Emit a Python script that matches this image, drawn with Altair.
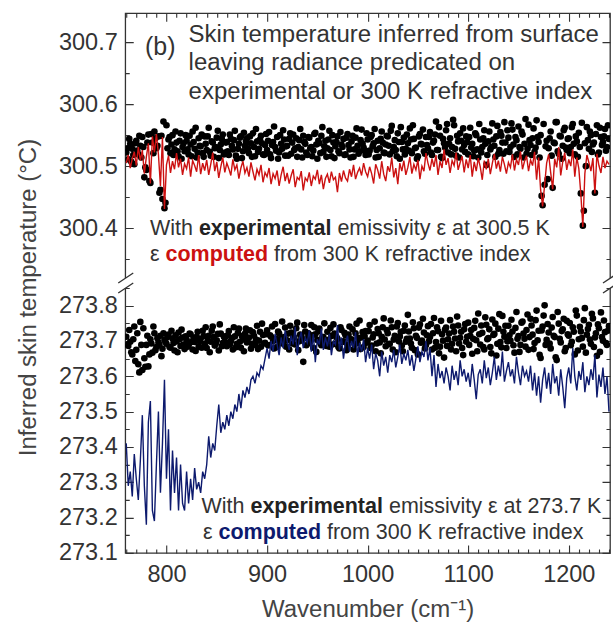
import altair as alt
import pandas as pd

# ---------------- data ----------------
wavenumber = list(range(760, 1241, 2))       # even samples
wavenumber_odd = list(range(761, 1240, 2))   # odd samples (experimental points only)

upper_experimental = [
    300.522, 300.511, 300.536, 300.528, 300.503, 300.541, 300.519, 300.533, 300.547, 300.482,
    300.494, 300.551, 300.473, 300.538, 300.556, 300.529, 300.548, 300.462, 300.447, 300.432,
    300.566, 300.543, 300.521, 300.55, 300.527, 300.538, 300.516, 300.553, 300.531, 300.524,
    300.541, 300.519, 300.535, 300.556, 300.528, 300.514, 300.545, 300.532, 300.521, 300.548,
    300.526, 300.562, 300.517, 300.538, 300.529, 300.546, 300.513, 300.535, 300.551, 300.522,
    300.539, 300.518, 300.544, 300.527, 300.557, 300.512, 300.536, 300.548, 300.524, 300.533,
    300.545, 300.521, 300.537, 300.553, 300.516, 300.54, 300.528, 300.549, 300.519, 300.534,
    300.526, 300.555, 300.513, 300.539, 300.531, 300.547, 300.522, 300.536, 300.558, 300.517,
    300.533, 300.544, 300.52, 300.551, 300.529, 300.515, 300.542, 300.527, 300.549, 300.536,
    300.518, 300.546, 300.531, 300.525, 300.554, 300.512, 300.537, 300.549, 300.523, 300.541,
    300.529, 300.557, 300.516, 300.538, 300.532, 300.548, 300.521, 300.535, 300.544, 300.519,
    300.552, 300.527, 300.54, 300.515, 300.546, 300.533, 300.524, 300.559, 300.53, 300.518,
    300.543, 300.525, 300.55, 300.537, 300.514, 300.541, 300.529, 300.556, 300.522, 300.535,
    300.548, 300.519, 300.565, 300.531, 300.526, 300.553, 300.512, 300.539, 300.546, 300.528,
    300.537, 300.561, 300.521, 300.544, 300.53, 300.516, 300.552, 300.535, 300.524, 300.547,
    300.529, 300.555, 300.518, 300.541, 300.572, 300.526, 300.549, 300.513, 300.537, 300.558,
    300.522, 300.545, 300.531, 300.566, 300.517, 300.54, 300.553, 300.527, 300.534, 300.548,
    300.519, 300.562, 300.536, 300.525, 300.55, 300.514, 300.543, 300.531, 300.558, 300.502,
    300.54, 300.527, 300.569, 300.533, 300.548, 300.52, 300.555, 300.538, 300.571, 300.524,
    300.546, 300.531, 300.559, 300.515, 300.542, 300.564, 300.528, 300.551, 300.536, 300.52,
    300.567, 300.534, 300.545, 300.523, 300.574, 300.539, 300.55, 300.437, 300.47, 300.541,
    300.529, 300.556, 300.465, 300.537, 300.571, 300.52, 300.548, 300.533, 300.562, 300.526,
    300.545, 300.531, 300.568, 300.519, 300.54, 300.554, 300.456, 300.404, 300.537, 300.563,
    300.528, 300.55, 300.535, 300.457, 300.566, 300.522, 300.547, 300.539, 300.56, 300.531,
    300.544,
]

upper_experimental_odd = [
    300.529, 300.544, 300.507, 300.518, 300.537, 300.525, 300.549, 300.514, 300.531, 300.498,
    300.538, 300.476, 300.552, 300.521, 300.545, 300.533, 300.457, 300.549, 300.572, 300.441,
    300.529, 300.547, 300.535, 300.518, 300.556, 300.524, 300.541, 300.512, 300.537, 300.55,
    300.527, 300.549, 300.516, 300.539, 300.562, 300.522, 300.533, 300.551, 300.515, 300.536,
    300.548, 300.523, 300.54, 300.515, 300.531, 300.557, 300.526, 300.544, 300.519, 300.538,
    300.524, 300.551, 300.533, 300.542, 300.517, 300.528, 300.546, 300.513, 300.554, 300.54,
    300.529, 300.548, 300.515, 300.531, 300.56, 300.523, 300.543, 300.537, 300.518, 300.552,
    300.541, 300.519, 300.534, 300.564, 300.525, 300.512, 300.55, 300.528, 300.543, 300.532,
    300.517, 300.553, 300.538, 300.526, 300.545, 300.531, 300.56, 300.514, 300.539, 300.522,
    300.547, 300.529, 300.516, 300.552, 300.535, 300.541, 300.521, 300.563, 300.532, 300.515,
    300.543, 300.526, 300.55, 300.513, 300.539, 300.524, 300.555, 300.531, 300.518, 300.546,
    300.534, 300.514, 300.549, 300.527, 300.561, 300.52, 300.542, 300.536, 300.525, 300.553,
    300.519, 300.547, 300.532, 300.56, 300.526, 300.515, 300.544, 300.538, 300.521, 300.549,
    300.533, 300.557, 300.524, 300.542, 300.516, 300.539, 300.563, 300.527, 300.519, 300.551,
    300.525, 300.543, 300.566, 300.529, 300.512, 300.548, 300.536, 300.559, 300.52, 300.534,
    300.547, 300.522, 300.538, 300.551, 300.526, 300.563, 300.515, 300.544, 300.53, 300.568,
    300.536, 300.519, 300.575, 300.528, 300.549, 300.514, 300.541, 300.561, 300.523, 300.539,
    300.547, 300.53, 300.516, 300.553, 300.527, 300.568, 300.522, 300.545, 300.536, 300.518,
    300.556, 300.531, 300.543, 300.515, 300.565, 300.526, 300.549, 300.52, 300.538, 300.558,
    300.523, 300.569, 300.535, 300.547, 300.519, 300.531, 300.556, 300.514, 300.576, 300.528,
    300.542, 300.518, 300.561, 300.53, 300.547, 300.514, 300.452, 300.568, 300.532, 300.479,
    300.545, 300.517, 300.538, 300.571, 300.524, 300.549, 300.512, 300.558, 300.53, 300.544,
    300.521, 300.563, 300.536, 300.548, 300.515, 300.531, 300.57, 300.428, 300.5, 300.542,
    300.556, 300.523, 300.538, 300.552, 300.519, 300.562, 300.534, 300.548, 300.525, 300.566,
]

upper_computed = [
    300.505, 300.518, 300.497, 300.512, 300.523, 300.501, 300.531, 300.509, 300.526, 300.488,
    300.515, 300.537, 300.472, 300.548, 300.522, 300.552, 300.519, 300.468, 300.547, 300.431,
    300.502, 300.517, 300.489, 300.508, 300.495, 300.521, 300.498, 300.512, 300.486, 300.504,
    300.496, 300.514, 300.483, 300.509, 300.501, 300.491, 300.518, 300.487, 300.505, 300.493,
    300.51, 300.486, 300.503, 300.522, 300.492, 300.507, 300.481, 300.499, 300.514, 300.49,
    300.505, 300.496, 300.485, 300.511, 300.494, 300.502, 300.48, 300.497, 300.508, 300.489,
    300.498, 300.483, 300.506, 300.491, 300.477, 300.495, 300.486, 300.502, 300.474, 300.49,
    300.483, 300.497, 300.471, 300.488, 300.48, 300.493, 300.468, 300.486, 300.499, 300.476,
    300.489, 300.472, 300.485, 300.495, 300.466, 300.482, 300.478, 300.492, 300.461, 300.481,
    300.476, 300.49, 300.468, 300.484, 300.479, 300.494, 300.471, 300.486, 300.463, 300.48,
    300.487, 300.473, 300.491, 300.478, 300.482, 300.458, 300.489, 300.475, 300.493, 300.481,
    300.476, 300.495, 300.483, 300.502, 300.479, 300.49, 300.497, 300.485, 300.505, 300.491,
    300.483, 300.499, 300.488, 300.472, 300.503, 300.494, 300.48, 300.508, 300.487, 300.476,
    300.5, 300.491, 300.514, 300.482, 300.497, 300.471, 300.505, 300.492, 300.509, 300.486,
    300.498, 300.515, 300.488, 300.503, 300.494, 300.51, 300.479, 300.5, 300.492, 300.521,
    300.505, 300.493, 300.512, 300.499, 300.518, 300.486, 300.508, 300.497, 300.527, 300.502,
    300.513, 300.489, 300.509, 300.501, 300.522, 300.494, 300.506, 300.516, 300.49, 300.511,
    300.497, 300.518, 300.483, 300.507, 300.492, 300.513, 300.499, 300.478, 300.509, 300.495,
    300.512, 300.487, 300.505, 300.52, 300.496, 300.509, 300.491, 300.515, 300.503, 300.488,
    300.506, 300.498, 300.519, 300.493, 300.511, 300.502, 300.524, 300.495, 300.508, 300.517,
    300.492, 300.51, 300.501, 300.523, 300.478, 300.514, 300.462, 300.435, 300.47, 300.505,
    300.519, 300.49, 300.463, 300.512, 300.498, 300.531, 300.485, 300.507, 300.522, 300.494,
    300.511, 300.5, 300.527, 300.483, 300.514, 300.496, 300.455, 300.402, 300.488, 300.518,
    300.506, 300.492, 300.513, 300.456, 300.52, 300.501, 300.489, 300.515, 300.497, 300.508,
    300.503,
]

lower_experimental = [
    273.712, 273.686, 273.698, 273.662, 273.741, 273.675, 273.634, 273.754, 273.618, 273.651,
    273.689, 273.628, 273.705, 273.667, 273.722, 273.683, 273.696, 273.715, 273.678, 273.703,
    273.692, 273.718, 273.681, 273.707, 273.673, 273.699, 273.724, 273.686, 273.71, 273.677,
    273.703, 273.688, 273.719, 273.676, 273.697, 273.712, 273.684, 273.706, 273.729, 273.691,
    273.68, 273.715, 273.698, 273.741, 273.687, 273.702, 273.673, 273.721, 273.694, 273.709,
    273.685, 273.728, 273.699, 273.676, 273.713, 273.692, 273.735, 273.681, 273.704, 273.72,
    273.696, 273.71, 273.678, 273.725, 273.689, 273.743, 273.701, 273.684, 273.717, 273.695,
    273.73, 273.688, 273.712, 273.699, 273.748, 273.683, 273.721, 273.706, 273.692, 273.738,
    273.702, 273.676, 273.724, 273.713, 273.69, 273.752, 273.699, 273.715, 273.641, 273.727,
    273.708, 273.694, 273.745, 273.681, 273.719, 273.703, 273.735, 273.688, 273.711, 273.697,
    273.726, 273.684, 273.714, 273.747, 273.692, 273.706, 273.679, 273.731, 273.699, 273.716,
    273.689, 273.741, 273.705, 273.676, 273.722, 273.694, 273.758, 273.71, 273.683, 273.728,
    273.701, 273.745, 273.687, 273.719, 273.671, 273.734, 273.696, 273.712, 273.764, 273.685,
    273.722, 273.692, 273.739, 273.704, 273.668, 273.751, 273.713, 273.687, 273.729, 273.698,
    273.774, 273.707, 273.681, 273.736, 273.715, 273.662, 273.747, 273.701, 273.724, 273.689,
    273.742, 273.711, 273.676, 273.765, 273.697, 273.728, 273.684, 273.719, 273.653, 273.738,
    273.705, 273.759, 273.692, 273.726, 273.671, 273.744, 273.709, 273.68, 273.733, 273.698,
    273.752, 273.715, 273.664, 273.737, 273.702, 273.778, 273.69, 273.723, 273.676, 273.746,
    273.708, 273.683, 273.761, 273.72, 273.659, 273.735, 273.697, 273.771, 273.712, 273.68,
    273.743, 273.701, 273.727, 273.667, 273.782, 273.714, 273.689, 273.755, 273.706, 273.731,
    273.675, 273.763, 273.718, 273.694, 273.786, 273.729, 273.652, 273.741, 273.801, 273.703,
    273.724, 273.679, 273.768, 273.711, 273.646, 273.749, 273.696, 273.733, 273.671, 273.757,
    273.715, 273.688, 273.739, 273.662, 273.772, 273.705, 273.727, 273.684, 273.793, 273.718,
    273.746, 273.692, 273.764, 273.71, 273.658, 273.736, 273.781, 273.701, 273.725, 273.689,
    273.742,
]

lower_experimental_odd = [
    273.69, 273.731, 273.668, 273.705, 273.643, 273.722, 273.611, 273.689, 273.736, 273.627,
    273.715, 273.662, 273.693, 273.741, 273.674, 273.708, 273.689, 273.657, 273.722, 273.697,
    273.711, 273.683, 273.729, 273.694, 273.716, 273.668, 273.705, 273.732, 273.69, 273.713,
    273.684, 273.721, 273.697, 273.708, 273.672, 273.726, 273.699, 273.681, 273.714, 273.739,
    273.702, 273.668, 273.729, 273.711, 273.693, 273.72, 273.747, 273.685, 273.713, 273.695,
    273.716, 273.69, 273.708, 273.739, 273.682, 273.723, 273.698, 273.714, 273.671, 273.735,
    273.707, 273.73, 273.692, 273.715, 273.704, 273.677, 273.726, 273.749, 273.693, 273.719,
    273.688, 273.716, 273.741, 273.679, 273.706, 273.727, 273.695, 273.755, 273.711, 273.684,
    273.721, 273.743, 273.693, 273.709, 273.736, 273.674, 273.718, 273.702, 273.745, 273.688,
    273.722, 273.7, 273.716, 273.739, 273.669, 273.727, 273.694, 273.711, 273.75, 273.686,
    273.703, 273.737, 273.69, 273.721, 273.711, 273.683, 273.739, 273.697, 273.723, 273.674,
    273.718, 273.702, 273.733, 273.691, 273.749, 273.708, 273.677, 273.725, 273.714, 273.695,
    273.728, 273.68, 273.71, 273.755, 273.693, 273.722, 273.665, 273.739, 273.704, 273.731,
    273.691, 273.758, 273.676, 273.715, 273.741, 273.699, 273.726, 273.671, 273.744, 273.706,
    273.727, 273.693, 273.753, 273.674, 273.709, 273.738, 273.695, 273.763, 273.679, 273.716,
    273.699, 273.748, 273.722, 273.681, 273.739, 273.665, 273.757, 273.701, 273.732, 273.686,
    273.721, 273.676, 273.741, 273.707, 273.769, 273.693, 273.726, 273.66, 273.748, 273.712,
    273.689, 273.731, 273.706, 273.757, 273.671, 273.719, 273.744, 273.683, 273.767, 273.705,
    273.733, 273.665, 273.717, 273.749, 273.692, 273.776, 273.682, 273.726, 273.743, 273.699,
    273.716, 273.76, 273.688, 273.737, 273.706, 273.669, 273.752, 273.721, 273.684, 273.775,
    273.711, 273.744, 273.677, 273.759, 273.702, 273.661, 273.73, 273.772, 273.689, 273.748,
    273.693, 273.738, 273.715, 273.654, 273.782, 273.706, 273.728, 273.763, 273.68, 273.719,
    273.751, 273.698, 273.726, 273.786, 273.673, 273.74, 273.708, 273.759, 273.667, 273.734,
    273.704, 273.777, 273.683, 273.722, 273.747, 273.669, 273.711, 273.758, 273.694, 273.729,
]

lower_computed = [
    273.41, 273.29, 273.33, 273.26, 273.38, 273.31, 273.25, 273.36, 273.49, 273.29,
    273.18, 273.47, 273.53, 273.22, 273.19, 273.35, 273.5, 273.27, 273.41, 273.59,
    273.31, 273.45, 273.22, 273.39, 273.27, 273.37, 273.22, 273.35, 273.24, 273.22,
    273.33, 273.24, 273.31, 273.25, 273.34, 273.28, 273.3, 273.27, 273.33, 273.31,
    273.35, 273.43, 273.37, 273.41, 273.39, 273.46, 273.52, 273.44, 273.47, 273.45,
    273.49, 273.46, 273.5, 273.48, 273.52, 273.5, 273.55, 273.51, 273.56, 273.54,
    273.57, 273.55, 273.59, 273.6, 273.58, 273.61, 273.6, 273.63, 273.62, 273.65,
    273.68, 273.65, 273.7, 273.67, 273.72, 273.69, 273.66, 273.71, 273.68, 273.73,
    273.7, 273.675, 273.715, 273.69, 273.74, 273.66, 273.705, 273.725, 273.68, 273.71,
    273.695, 273.73, 273.67, 273.72, 273.64, 273.705, 273.69, 273.735, 273.675, 273.71,
    273.685, 273.72, 273.66, 273.7, 273.69, 273.745, 273.675, 273.71, 273.65, 273.695,
    273.715, 273.67, 273.7, 273.68, 273.725, 273.655, 273.695, 273.67, 273.705, 273.64,
    273.68, 273.65, 273.69, 273.62, 273.665, 273.645, 273.6, 273.67, 273.63, 273.655,
    273.61, 273.66, 273.64, 273.675, 273.625, 273.655, 273.69, 273.635, 273.665, 273.645,
    273.675, 273.63, 273.66, 273.615, 273.65, 273.685, 273.64, 273.67, 273.655, 273.7,
    273.645, 273.68, 273.6, 273.66, 273.57, 273.635, 273.595, 273.615, 273.58, 273.625,
    273.6, 273.56, 273.63, 273.59, 273.615, 273.575, 273.645, 273.6, 273.62, 273.585,
    273.61, 273.57, 273.635, 273.59, 273.535, 273.605, 273.62, 273.58, 273.645, 273.595,
    273.625, 273.575, 273.61, 273.655, 273.59, 273.63, 273.6, 273.67, 273.585, 273.615,
    273.64, 273.6, 273.62, 273.58, 273.655, 273.61, 273.575, 273.63, 273.6, 273.615,
    273.585, 273.63, 273.56, 273.61, 273.545, 273.6, 273.525, 273.59, 273.625, 273.565,
    273.61, 273.55, 273.635, 273.58, 273.6, 273.545, 273.62, 273.57, 273.51, 273.595,
    273.625, 273.58, 273.68, 273.6, 273.56, 273.615, 273.59, 273.64, 273.555, 273.6,
    273.575, 273.62, 273.59, 273.66, 273.54, 273.605, 273.57, 273.625, 273.55, 273.6,
    273.5,
]

y_major = [273.1, 273.2, 273.3, 273.4, 273.5, 273.6, 273.7, 273.8, 300.4, 300.5, 300.6, 300.7]
y_minor = [273.15, 273.25, 273.35, 273.45, 273.55, 273.65, 273.75, 273.85,
           300.35, 300.45, 300.55, 300.65]
x_major = [800, 900, 1000, 1100, 1200]
x_minor = [760, 770, 780, 790, 810, 820, 830, 840, 850, 860, 870, 880, 890,
           910, 920, 930, 940, 950, 960, 970, 980, 990, 1010, 1020, 1030, 1040,
           1050, 1060, 1070, 1080, 1090, 1110, 1120, 1130, 1140, 1150, 1160,
           1170, 1180, 1190, 1210, 1220, 1230, 1240]

# ---------------- layout ----------------
W, H = 485, 540
BREAK = 269
FONT = "Liberation Sans, Arial, Helvetica, sans-serif"
INK = "#333333"
RED = "#cc1111"
NAVY = "#0d1a6e"

upper_lines = pd.DataFrame({"w": wavenumber, "comp": upper_computed})
lower_lines = pd.DataFrame({"w": wavenumber, "comp": lower_computed})
upper_dots = pd.DataFrame({"w": wavenumber + wavenumber_odd,
                           "exp": upper_experimental + upper_experimental_odd})
lower_dots = pd.DataFrame({"w": wavenumber + wavenumber_odd,
                           "exp": lower_experimental + lower_experimental_odd})

xscale = alt.Scale(domain=[759, 1241], nice=False, zero=False)
yscale = alt.Scale(domain=[273.1, 273.867, 300.313, 300.747],
                   range=[H, BREAK, BREAK, 0], nice=False, zero=False)

x_main = alt.X("w:Q", scale=xscale, axis=alt.Axis(
    orient="bottom", values=x_major, format="d", ticks=False, domain=False,
    labelFont=FONT, labelFontSize=23.5, labelColor=INK, labelPadding=10,
    grid=True, gridDash=[8, H - 16], gridColor=INK, gridWidth=1.1, gridOpacity=1,
    title="Wavenumber (cm⁻¹)", titleFont=FONT, titleFontSize=24,
    titleFontWeight="normal", titleColor="#444444",
    titleBaseline="alphabetic", titleY=64))
y_main = alt.Y("exp:Q", scale=yscale, axis=alt.Axis(
    orient="left", values=y_major, format=".1f", ticks=False, domain=False,
    labelFont=FONT, labelFontSize=23.5, labelColor=INK, labelPadding=8,
    grid=True, gridDash=[8, W - 16], gridColor=INK, gridWidth=1.1, gridOpacity=1,
    title="Inferred skin temperature (°C)", titleFont=FONT, titleFontSize=24,
    titleFontWeight="normal", titleColor="#444444",
    titleBaseline="middle", titleX=-97, titleY=284))

x_minor_ax = alt.X("w:Q", scale=xscale, axis=alt.Axis(
    orient="top", values=x_minor, labels=False, ticks=False, domain=False,
    grid=True, gridDash=[4, H - 8], gridColor=INK, gridWidth=1.1, gridOpacity=1,
    title=None))
y_minor_ax = alt.Y("comp:Q", scale=yscale, axis=alt.Axis(
    orient="right", values=y_minor, labels=False, ticks=False, domain=False,
    grid=True, gridDash=[4, W - 8], gridColor=INK, gridWidth=1.1, gridOpacity=1,
    title=None))

dots_upper = alt.Chart(upper_dots).mark_circle(size=44, color="#000000", opacity=1, clip=True).encode(
    x=x_main, y=y_main)
dots_lower = alt.Chart(lower_dots).mark_circle(size=44, color="#000000", opacity=1, clip=True).encode(
    x=alt.X("w:Q", scale=xscale, axis=None), y=alt.Y("exp:Q", scale=yscale, axis=None))
line_upper = alt.Chart(upper_lines).mark_line(color=RED, strokeWidth=1.4, clip=True).encode(
    x=x_minor_ax, y=y_minor_ax)
line_lower = alt.Chart(lower_lines).mark_line(color=NAVY, strokeWidth=1.4, clip=True).encode(
    x=alt.X("w:Q", scale=xscale, axis=None), y=alt.Y("comp:Q", scale=yscale, axis=None))

one = pd.DataFrame({"k": [0]})


def txt(s, x, y, size=21.5, weight="normal", color=INK):
    return alt.Chart(one).mark_text(
        text=s, align="left", baseline="middle", font=FONT, fontSize=size,
        fontWeight=weight, color=color).encode(x=alt.value(x), y=alt.value(y))


texts = [
    txt("(b)", 19.7, 33.7, size=25),
    txt("Skin temperature inferred from surface", 63.4, 22, size=24),
    txt("leaving radiance predicated on", 63.4, 50.3, size=24),
    txt("experimental or 300 K refractive index", 63.4, 78.7, size=24),
    txt("With", 24.7, 216.3),
    txt("experimental", 73.7, 216.3, weight="bold", color="#222222"),
    txt("emissivity ε at 300.5 K", 212.3, 216.3),
    txt("ε", 24.7, 242),
    txt("computed", 40.3, 242, weight="bold", color=RED),
    txt("from 300 K refractive index", 148.8, 242),
    txt("With", 76.3, 493.7),
    txt("experimental", 125.3, 493.7, weight="bold", color="#222222"),
    txt("emissivity ε at 273.7 K", 263.9, 493.7),
    txt("ε", 77.7, 520),
    txt("computed", 93.3, 520, weight="bold", color=NAVY),
    txt("from 300 K refractive index", 201.8, 520),
]

# axis-break marks
breaks = []
for bx in (0, W):
    breaks.append(alt.Chart(one).mark_rect(color="white").encode(
        x=alt.value(bx - 3), x2=alt.value(bx + 3), y=alt.value(BREAK - 4), y2=alt.value(BREAK + 6)))
    for dy in (-4, 6):
        breaks.append(alt.Chart(one).mark_rule(color=INK, strokeWidth=1.3).encode(
            x=alt.value(bx - 7), x2=alt.value(bx + 8),
            y=alt.value(BREAK + dy + 5), y2=alt.value(BREAK + dy - 5)))

chart = alt.layer(
    dots_upper, dots_lower, line_upper, line_lower, *breaks, *texts
).resolve_axis(x="independent", y="independent").properties(
    width=W, height=H,
    autosize=alt.AutoSizeParams(type="none"),
    padding={"left": 125.3, "top": 13, "right": 3, "bottom": 70},
).configure_view(stroke=INK, strokeWidth=1.3)

chart.save("out.html", embed_options={"renderer": "svg", "actions": False})
